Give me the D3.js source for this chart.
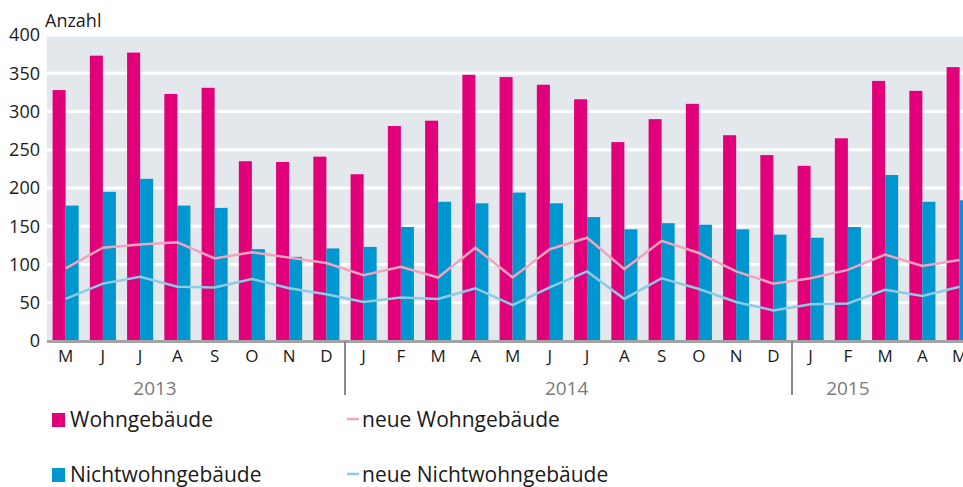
<!DOCTYPE html>
<html>
<head>
<meta charset="utf-8">
<script src="https://cdn.jsdelivr.net/npm/d3@7"></script>
<style>
  body { margin: 0; background: #fff; }
  svg text { font-family: "Open Sans", "Noto Sans", sans-serif; fill: #1a1a1a; }
</style>
</head>
<body>
<svg id="chart" width="963" height="487"></svg>
<script>
// months May 2013 .. May 2015
const months = ["M","J","J","A","S","O","N","D",
                "J","F","M","A","M","J","J","A","S","O","N","D",
                "J","F","M","A","M"];
const years = ["2013", "2014", "2015"];
const yearStart = [0, 8, 20];          // index of first month of each year
const yearLabelAt = [2.9, 13.95, 21.5]; // where the year label sits (in months)

const wohn = [328,373,377,323,331,235,234,241,
              218,281,288,348,345,335,316,260,290,310,269,243,
              229,265,340,327,358];
const nichtwohn = [177,195,212,177,174,120,110,121,
                   123,149,182,180,194,180,162,146,154,152,146,139,
                   135,149,217,182,184];
const neueWohn = [95,122,126,129,108,116,109,102,
                  86,97,83,122,83,120,135,94,131,115,91,75,
                  82,93,113,98,106];
const neueNichtwohn = [55,75,84,71,70,81,69,61,
                       51,57,55,69,47,70,91,55,82,68,51,40,
                       48,49,67,59,71];
const yTicks = [0,50,100,150,200,250,300,350,400];

const svg = d3.select("#chart");
const left = 47, plotTop = 35, bottom = 341, step = 37.25;

const x = d3.scaleBand()
    .domain(d3.range(months.length))
    .range([left, left + step * months.length])
    .paddingInner(0.3)
    .paddingOuter(0.15);
const y = d3.scaleLinear().domain([0, 400]).range([bottom, plotTop]);

const g = svg.append("g");

// panel
g.append("rect")
    .attr("x", left).attr("y", plotTop)
    .attr("width", 963 - left).attr("height", bottom - plotTop)
    .attr("fill", "#e3e8ec");

g.append("g").selectAll("line")
    .data(yTicks.slice(1))
    .enter().append("line")
    .attr("x1", left).attr("x2", 963)
    .attr("y1", d => y(d)).attr("y2", d => y(d))
    .attr("stroke", "#fff").attr("stroke-width", 3);

// bars
const bw = x.bandwidth() / 2;
g.append("g").selectAll("rect")
    .data(wohn)
    .enter().append("rect")
    .attr("x", (d, i) => x(i))
    .attr("y", d => y(d))
    .attr("width", bw)
    .attr("height", d => bottom - y(d))
    .attr("fill", "#e2007a");

g.append("g").selectAll("rect")
    .data(nichtwohn)
    .enter().append("rect")
    .attr("x", (d, i) => x(i) + bw)
    .attr("y", d => y(d))
    .attr("width", bw)
    .attr("height", d => bottom - y(d))
    .attr("fill", "#0096d0");

// lines
const line = d3.line()
    .x((d, i) => x(i) + x.bandwidth() / 2)
    .y(d => y(d));

g.append("path")
    .datum(neueWohn)
    .attr("d", line)
    .attr("fill", "none")
    .attr("stroke", "#f2a3bd")
    .attr("stroke-width", 2.5);

g.append("path")
    .datum(neueNichtwohn)
    .attr("d", line)
    .attr("fill", "none")
    .attr("stroke", "#8ccbe3")
    .attr("stroke-width", 2.5);

// x baseline
g.append("line")
    .attr("x1", left).attr("x2", 963)
    .attr("y1", bottom + 0.5).attr("y2", bottom + 0.5)
    .attr("stroke", "#a3a3a3").attr("stroke-width", 3);

// y axis labels
g.append("g").selectAll("text")
    .data(yTicks)
    .enter().append("text")
    .attr("x", 40)
    .attr("y", d => y(d))
    .attr("dy", "0.36em")
    .attr("text-anchor", "end")
    .style("font-size", "18px")
    .text(d => d);

svg.append("text")
    .attr("x", 45).attr("y", 27)
    .style("font-size", "18px")
    .text("Anzahl");

// month labels
g.append("g").selectAll("text")
    .data(months)
    .enter().append("text")
    .attr("x", (d, i) => x(i) + x.bandwidth() / 2)
    .attr("y", 362)
    .attr("text-anchor", "middle")
    .style("font-size", "17px")
    .text(d => d);

// year separators
g.append("g").selectAll("line")
    .data(yearStart.slice(1))
    .enter().append("line")
    .attr("x1", d => x(d) - x.step() * x.paddingInner() / 2)
    .attr("x2", d => x(d) - x.step() * x.paddingInner() / 2)
    .attr("y1", bottom).attr("y2", 395)
    .attr("stroke", "#8a8a8a").attr("stroke-width", 2);

g.append("g").selectAll("text")
    .data(years)
    .enter().append("text")
    .attr("x", (d, i) => left + x.step() * yearLabelAt[i])
    .attr("y", 395)
    .attr("text-anchor", "middle")
    .style("font-size", "19px")
    .style("fill", "#7a7a7a")
    .text(d => d);

// legend
const legend = svg.append("g");
const items = [
  {label: "Wohngebäude", color: "#e2007a", type: "box", x: 52, y: 427},
  {label: "neue Wohngebäude", color: "#f2a3bd", type: "line", x: 347, y: 427},
  {label: "Nichtwohngebäude", color: "#0096d0", type: "box", x: 52, y: 482},
  {label: "neue Nichtwohngebäude", color: "#8ccbe3", type: "line", x: 347, y: 482}
];
items.forEach(it => {
  if (it.type === "box") {
    legend.append("rect")
      .attr("x", it.x).attr("y", it.y - 14)
      .attr("width", 13).attr("height", 14)
      .attr("fill", it.color);
  } else {
    legend.append("line")
      .attr("x1", it.x).attr("x2", it.x + 12)
      .attr("y1", it.y - 8).attr("y2", it.y - 8)
      .attr("stroke", it.color).attr("stroke-width", 2.5);
  }
  legend.append("text")
    .attr("x", it.type === "box" ? it.x + 18 : it.x + 15)
    .attr("y", it.y)
    .style("font-size", "21px")
    .text(it.label);
});
</script>
</body>
</html>
